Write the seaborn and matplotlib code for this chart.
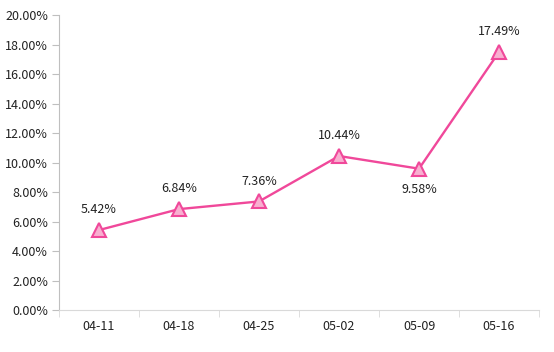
import pandas as pd
import seaborn as sns
import matplotlib.pyplot as plt
from matplotlib.ticker import FuncFormatter, FixedLocator

# Datos del gráfico
fechas = ["04-11", "04-18", "04-25", "05-02", "05-09", "05-16"]
valores = [5.42, 6.84, 7.36, 10.44, 9.58, 17.49]
etiqueta_abajo = ["05-09"]

df = pd.DataFrame({"Fecha": fechas, "Valor": valores})

sns.set_style("white")
plt.rcParams['font.family'] = ['Noto Sans CJK SC', 'DejaVu Sans']

fig = plt.figure(figsize=(5.54, 3.52), dpi=100)
ax = fig.add_axes([59 / 554, 1 - 310 / 352, 480 / 554, 295 / 352])

sns.lineplot(data=df, x="Fecha", y="Valor", ax=ax, color="#F0489A", linewidth=1.7,
             marker="^", markersize=9.5, markerfacecolor="#F8AFD0",
             markeredgecolor="#F0489A", markeredgewidth=1.5)

for i, (f, v) in enumerate(zip(fechas, valores)):
    if f in etiqueta_abajo:
        ax.annotate(f"{v:.2f}%", (i, v), xytext=(0, -10), textcoords="offset points",
                    ha="center", va="top", fontsize=9, color="#222222")
    else:
        ax.annotate(f"{v:.2f}%", (i, v), xytext=(0, 10), textcoords="offset points",
                    ha="center", va="bottom", fontsize=9, color="#222222")

ax.set_ylim(0, 20)
ax.set_xlim(-0.5, len(fechas) - 0.5)
ax.set_yticks(range(0, 21, 2))
ax.yaxis.set_major_formatter(FuncFormatter(lambda y, _: f"{y:.2f}%"))
ax.set_xticks(range(len(fechas)))
ax.set_xticklabels(fechas)
ax.xaxis.set_minor_locator(FixedLocator([i - 0.5 for i in range(len(fechas) + 1)]))

ax.set_xlabel("")
ax.set_ylabel("")
ax.grid(False)
for lado in ["top", "right"]:
    ax.spines[lado].set_visible(False)
ax.spines["left"].set_color("#BFBFBF")
ax.spines["bottom"].set_color("#D9D9D9")
ax.tick_params(axis="y", which="major", left=True, length=5, color="#BFBFBF",
               labelsize=9, labelcolor="#222222", pad=3)
ax.tick_params(axis="x", which="major", bottom=False, labelsize=9,
               labelcolor="#222222", pad=4)
ax.tick_params(axis="x", which="minor", bottom=True, length=5, color="#D9D9D9")

plt.savefig("out.png", dpi=100)
